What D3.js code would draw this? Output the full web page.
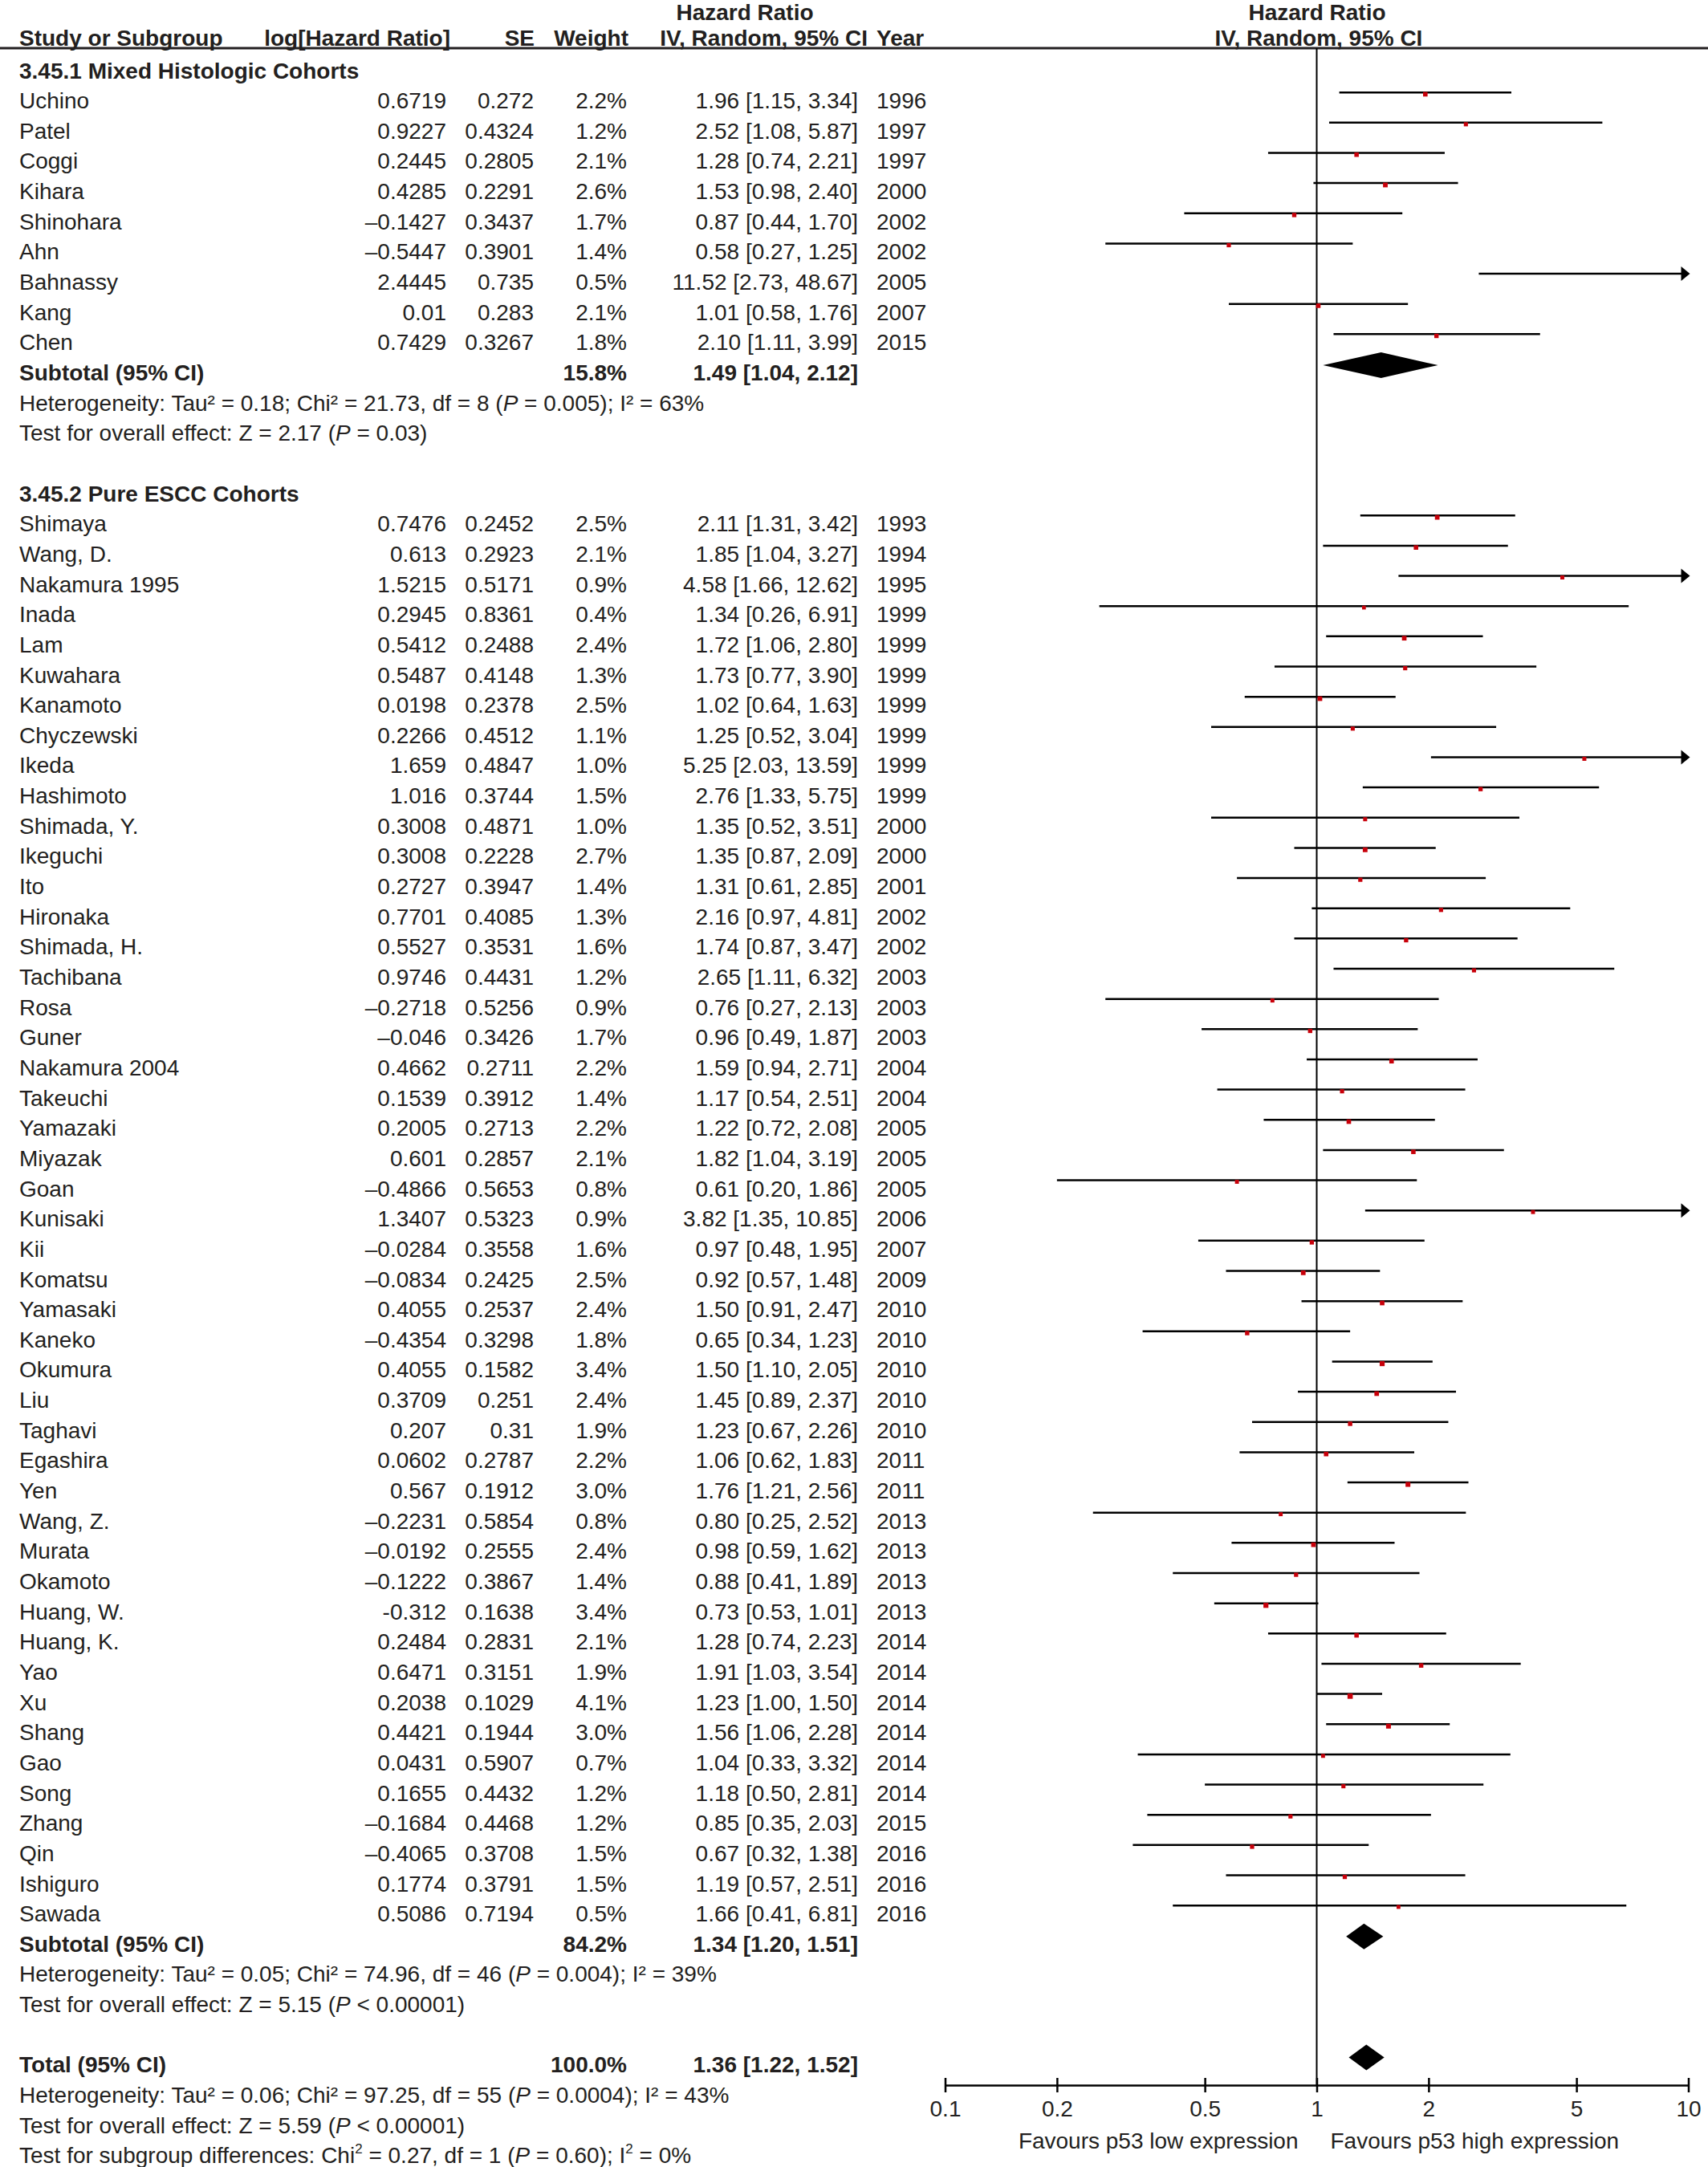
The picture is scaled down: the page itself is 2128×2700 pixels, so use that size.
<!DOCTYPE html>
<html>
<head>
<meta charset="utf-8">
<script src="https://cdnjs.cloudflare.com/ajax/libs/d3/7.8.5/d3.min.js"></script>
<style>
body { margin: 0; background: #fff; }
svg text { font-family: "Liberation Sans", Arial, sans-serif; font-size: 28px; fill: #231f20; }
</style>
</head>
<body>
<svg id="chart"></svg>
<script>
// group 3.45.1 Mixed Histologic Cohorts
const names1 = ["Uchino", "Patel", "Coggi", "Kihara", "Shinohara", "Ahn", "Bahnassy", "Kang", "Chen"];
const logHR1 = ["0.6719", "0.9227", "0.2445", "0.4285", "–0.1427", "–0.5447", "2.4445", "0.01", "0.7429"];
const se1 = ["0.272", "0.4324", "0.2805", "0.2291", "0.3437", "0.3901", "0.735", "0.283", "0.3267"];
const weight1 = [2.2, 1.2, 2.1, 2.6, 1.7, 1.4, 0.5, 2.1, 1.8];
const hr1 = [1.96, 2.52, 1.28, 1.53, 0.87, 0.58, 11.52, 1.01, 2.10];
const lo1 = [1.15, 1.08, 0.74, 0.98, 0.44, 0.27, 2.73, 0.58, 1.11];
const hi1 = [3.34, 5.87, 2.21, 2.40, 1.70, 1.25, 48.67, 1.76, 3.99];
const year1 = [1996, 1997, 1997, 2000, 2002, 2002, 2005, 2007, 2015];

// group 3.45.2 Pure ESCC Cohorts
const names2 = ["Shimaya", "Wang, D.", "Nakamura 1995", "Inada", "Lam", "Kuwahara", "Kanamoto", "Chyczewski",
  "Ikeda", "Hashimoto", "Shimada, Y.", "Ikeguchi", "Ito", "Hironaka", "Shimada, H.", "Tachibana", "Rosa",
  "Guner", "Nakamura 2004", "Takeuchi", "Yamazaki", "Miyazak", "Goan", "Kunisaki", "Kii", "Komatsu",
  "Yamasaki", "Kaneko", "Okumura", "Liu", "Taghavi", "Egashira", "Yen", "Wang, Z.", "Murata", "Okamoto",
  "Huang, W.", "Huang, K.", "Yao", "Xu", "Shang", "Gao", "Song", "Zhang", "Qin", "Ishiguro", "Sawada"];
const logHR2 = ["0.7476", "0.613", "1.5215", "0.2945", "0.5412", "0.5487", "0.0198", "0.2266",
  "1.659", "1.016", "0.3008", "0.3008", "0.2727", "0.7701", "0.5527", "0.9746", "–0.2718",
  "–0.046", "0.4662", "0.1539", "0.2005", "0.601", "–0.4866", "1.3407", "–0.0284", "–0.0834",
  "0.4055", "–0.4354", "0.4055", "0.3709", "0.207", "0.0602", "0.567", "–0.2231", "–0.0192", "–0.1222",
  "-0.312", "0.2484", "0.6471", "0.2038", "0.4421", "0.0431", "0.1655", "–0.1684", "–0.4065", "0.1774", "0.5086"];
const se2 = ["0.2452", "0.2923", "0.5171", "0.8361", "0.2488", "0.4148", "0.2378", "0.4512",
  "0.4847", "0.3744", "0.4871", "0.2228", "0.3947", "0.4085", "0.3531", "0.4431", "0.5256",
  "0.3426", "0.2711", "0.3912", "0.2713", "0.2857", "0.5653", "0.5323", "0.3558", "0.2425",
  "0.2537", "0.3298", "0.1582", "0.251", "0.31", "0.2787", "0.1912", "0.5854", "0.2555", "0.3867",
  "0.1638", "0.2831", "0.3151", "0.1029", "0.1944", "0.5907", "0.4432", "0.4468", "0.3708", "0.3791", "0.7194"];
const weight2 = [2.5, 2.1, 0.9, 0.4, 2.4, 1.3, 2.5, 1.1, 1.0, 1.5, 1.0, 2.7, 1.4, 1.3, 1.6, 1.2, 0.9,
  1.7, 2.2, 1.4, 2.2, 2.1, 0.8, 0.9, 1.6, 2.5, 2.4, 1.8, 3.4, 2.4, 1.9, 2.2, 3.0, 0.8, 2.4, 1.4,
  3.4, 2.1, 1.9, 4.1, 3.0, 0.7, 1.2, 1.2, 1.5, 1.5, 0.5];
const hr2 = [2.11, 1.85, 4.58, 1.34, 1.72, 1.73, 1.02, 1.25, 5.25, 2.76, 1.35, 1.35, 1.31, 2.16, 1.74,
  2.65, 0.76, 0.96, 1.59, 1.17, 1.22, 1.82, 0.61, 3.82, 0.97, 0.92, 1.50, 0.65, 1.50, 1.45, 1.23, 1.06,
  1.76, 0.80, 0.98, 0.88, 0.73, 1.28, 1.91, 1.23, 1.56, 1.04, 1.18, 0.85, 0.67, 1.19, 1.66];
const lo2 = [1.31, 1.04, 1.66, 0.26, 1.06, 0.77, 0.64, 0.52, 2.03, 1.33, 0.52, 0.87, 0.61, 0.97, 0.87,
  1.11, 0.27, 0.49, 0.94, 0.54, 0.72, 1.04, 0.20, 1.35, 0.48, 0.57, 0.91, 0.34, 1.10, 0.89, 0.67, 0.62,
  1.21, 0.25, 0.59, 0.41, 0.53, 0.74, 1.03, 1.00, 1.06, 0.33, 0.50, 0.35, 0.32, 0.57, 0.41];
const hi2 = [3.42, 3.27, 12.62, 6.91, 2.80, 3.90, 1.63, 3.04, 13.59, 5.75, 3.51, 2.09, 2.85, 4.81, 3.47,
  6.32, 2.13, 1.87, 2.71, 2.51, 2.08, 3.19, 1.86, 10.85, 1.95, 1.48, 2.47, 1.23, 2.05, 2.37, 2.26, 1.83,
  2.56, 2.52, 1.62, 1.89, 1.01, 2.23, 3.54, 1.50, 2.28, 3.32, 2.81, 2.03, 1.38, 2.51, 6.81];
const year2 = [1993, 1994, 1995, 1999, 1999, 1999, 1999, 1999, 1999, 1999, 2000, 2000, 2001, 2002, 2002,
  2003, 2003, 2003, 2004, 2004, 2005, 2005, 2005, 2006, 2007, 2009, 2010, 2010, 2010, 2010, 2010, 2011,
  2011, 2013, 2013, 2013, 2013, 2014, 2014, 2014, 2014, 2014, 2014, 2015, 2016, 2016, 2016];

// pooled estimates
const pooledLabels = ["Subtotal (95% CI)", "Subtotal (95% CI)", "Total (95% CI)"];
const pooledWeight = ["15.8%", "84.2%", "100.0%"];
const pooledHR = [1.49, 1.34, 1.36];
const pooledLo = [1.04, 1.20, 1.22];
const pooledHi = [2.12, 1.51, 1.52];

const axisTicks = [0.1, 0.2, 0.5, 1, 2, 5, 10];

const W = 2128, H = 2700;
const svg = d3.select("#chart").attr("width", W).attr("height", H);

const x = d3.scaleLog().domain([0.1, 10]).range([1177.5, 2103.5]);
const rowY = d3.scaleLinear().domain([0, 69]).range([97.5, 97.5 + 69 * 37.65]); // text baselines
const lineOff = -20;

const col = { name: 24, logHR: 556, se: 665, weight: 781, ci: 1069, year: 1092 };

function label(xp, y, s, anchor, bold) {
  return svg.append("text").attr("x", xp).attr("y", y)
    .attr("text-anchor", anchor || "start")
    .attr("font-weight", bold ? "bold" : null)
    .text(s);
}

// rich text: parts = [[str, "i"|"sup"|"after"|null], ...]
function rich(xp, y, parts) {
  const t = svg.append("text").attr("x", xp).attr("y", y);
  parts.forEach(p => {
    const ts = t.append("tspan").text(p[0]);
    if (p[1] === "i") ts.attr("font-style", "italic");
    if (p[1] === "sup") ts.attr("dy", -12).style("font-size", "17px");
    if (p[1] === "after") ts.attr("dy", 12);
  });
}

// headers
label(928, 25, "Hazard Ratio", "middle", true);
label(1641, 25, "Hazard Ratio", "middle", true);
label(col.name, 57, "Study or Subgroup", "start", true);
label(561, 57, "log[Hazard Ratio]", "end", true);
label(666, 57, "SE", "end", true);
label(783, 57, "Weight", "end", true);
label(1081, 57, "IV, Random, 95% CI", "end", true);
label(col.year, 57, "Year", "start", true);
label(1643, 57, "IV, Random, 95% CI", "middle", true);

svg.append("line").attr("x1", 0).attr("x2", W).attr("y1", 60).attr("y2", 60)
  .attr("stroke", "#231f20").attr("stroke-width", 3);

// null line
svg.append("line").attr("x1", x(1)).attr("x2", x(1)).attr("y1", 60).attr("y2", 2598)
  .attr("stroke", "#000").attr("stroke-width", 2);

function buildStudies(names, lhr, se, w, hr, lo, hi, yr, startRow) {
  return names.map((n, i) => ({
    name: n, lhr: lhr[i], se: se[i], w: w[i], hr: hr[i], lo: lo[i], hi: hi[i], year: yr[i], row: startRow + i
  }));
}
const studies = buildStudies(names1, logHR1, se1, weight1, hr1, lo1, hi1, year1, 1)
  .concat(buildStudies(names2, logHR2, se2, weight2, hr2, lo2, hi2, year2, 15));

// study text
studies.forEach(d => {
  const y = rowY(d.row);
  label(col.name, y, d.name);
  label(col.logHR, y, d.lhr, "end");
  label(col.se, y, d.se, "end");
  label(col.weight, y, d.w.toFixed(1) + "%", "end");
  label(col.ci, y, d.hr.toFixed(2) + " [" + d.lo.toFixed(2) + ", " + d.hi.toFixed(2) + "]", "end");
  label(col.year, y, d.year);
});

// CI lines
const plot = svg.append("g");
plot.selectAll("line.ci").data(studies).enter().append("line")
  .attr("class", "ci")
  .attr("x1", d => x(Math.max(d.lo, 0.1)))
  .attr("x2", d => d.hi > 10 ? x(10) - 6 : x(d.hi))
  .attr("y1", d => rowY(d.row) + lineOff)
  .attr("y2", d => rowY(d.row) + lineOff)
  .attr("stroke", "#000").attr("stroke-width", 2.5);

// arrows for CIs beyond 10
plot.selectAll("path.arrow").data(studies.filter(d => d.hi > 10)).enter().append("path")
  .attr("class", "arrow")
  .attr("d", d => {
    const y = rowY(d.row) + lineOff, xe = x(10) + 2;
    return `M${xe},${y} L${xe - 11},${y - 9} L${xe - 11},${y + 9} Z`;
  })
  .attr("fill", "#000");

// point markers
plot.selectAll("rect.pt").data(studies.filter(d => d.hr >= 0.1 && d.hr <= 10)).enter().append("rect")
  .attr("class", "pt")
  .attr("width", d => 4.5 + 0.5 * d.w)
  .attr("height", d => 4.5 + 0.5 * d.w)
  .attr("x", d => x(d.hr) - (4.5 + 0.5 * d.w) / 2)
  .attr("y", d => rowY(d.row) + lineOff - 0.5)
  .attr("fill", "#c8000a");

// pooled rows
const pooledRows = [10, 62, 66];
pooledRows.forEach((r, i) => {
  const y = rowY(r);
  label(col.name, y, pooledLabels[i], "start", true);
  label(col.weight, y, pooledWeight[i], "end", true);
  label(col.ci, y, pooledHR[i].toFixed(2) + " [" + pooledLo[i].toFixed(2) + ", " + pooledHi[i].toFixed(2) + "]", "end", true);
  const cy = y + lineOff + 1;
  plot.append("path")
    .attr("d", `M${x(pooledLo[i])},${cy} L${x(pooledHR[i])},${cy - 16} L${x(pooledHi[i])},${cy} L${x(pooledHR[i])},${cy + 16} Z`)
    .attr("fill", "#000");
});

// group headers
label(col.name, rowY(0), "3.45.1 Mixed Histologic Cohorts", "start", true);
label(col.name, rowY(14), "3.45.2 Pure ESCC Cohorts", "start", true);

// heterogeneity and tests
rich(col.name, rowY(11), [["Heterogeneity: Tau² = 0.18; Chi² = 21.73, df = 8 ("], ["P", "i"], [" = 0.005); I² = 63%"]]);
rich(col.name, rowY(12), [["Test for overall effect: Z = 2.17 ("], ["P", "i"], [" = 0.03)"]]);
rich(col.name, rowY(63), [["Heterogeneity: Tau² = 0.05; Chi² = 74.96, df = 46 ("], ["P", "i"], [" = 0.004); I² = 39%"]]);
rich(col.name, rowY(64), [["Test for overall effect: Z = 5.15 ("], ["P", "i"], [" < 0.00001)"]]);
rich(col.name, rowY(67), [["Heterogeneity: Tau² = 0.06; Chi² = 97.25, df = 55 ("], ["P", "i"], [" = 0.0004); I² = 43%"]]);
rich(col.name, rowY(68), [["Test for overall effect: Z = 5.59 ("], ["P", "i"], [" < 0.00001)"]]);
rich(col.name, rowY(69), [["Test for subgroup differences: Chi"], ["2", "sup"], [" = 0.27, df = 1 (", "after"], ["P", "i"],
  [" = 0.60); I"], ["2", "sup"], [" = 0%", "after"]]);

// axis
const axisY = 2598;
const axis = d3.axisBottom(x).tickValues(axisTicks).tickFormat(d3.format("")).tickSize(0).tickPadding(0);
const ag = svg.append("g").attr("transform", `translate(0,${axisY})`).call(axis);
ag.select(".domain").attr("stroke", "#000").attr("stroke-width", 2.5);
ag.selectAll(".tick line").attr("y1", -9).attr("y2", 9).attr("stroke", "#000").attr("stroke-width", 2.5);
ag.selectAll(".tick text").attr("y", 39).attr("dy", null)
  .style("font-family", "\"Liberation Sans\", Arial, sans-serif").style("font-size", "28px").attr("fill", "#231f20");

label(x(1) - 23, 2677, "Favours p53 low expression", "end");
label(x(1) + 17, 2677, "Favours p53 high expression", "start");
</script>
</body>
</html>
